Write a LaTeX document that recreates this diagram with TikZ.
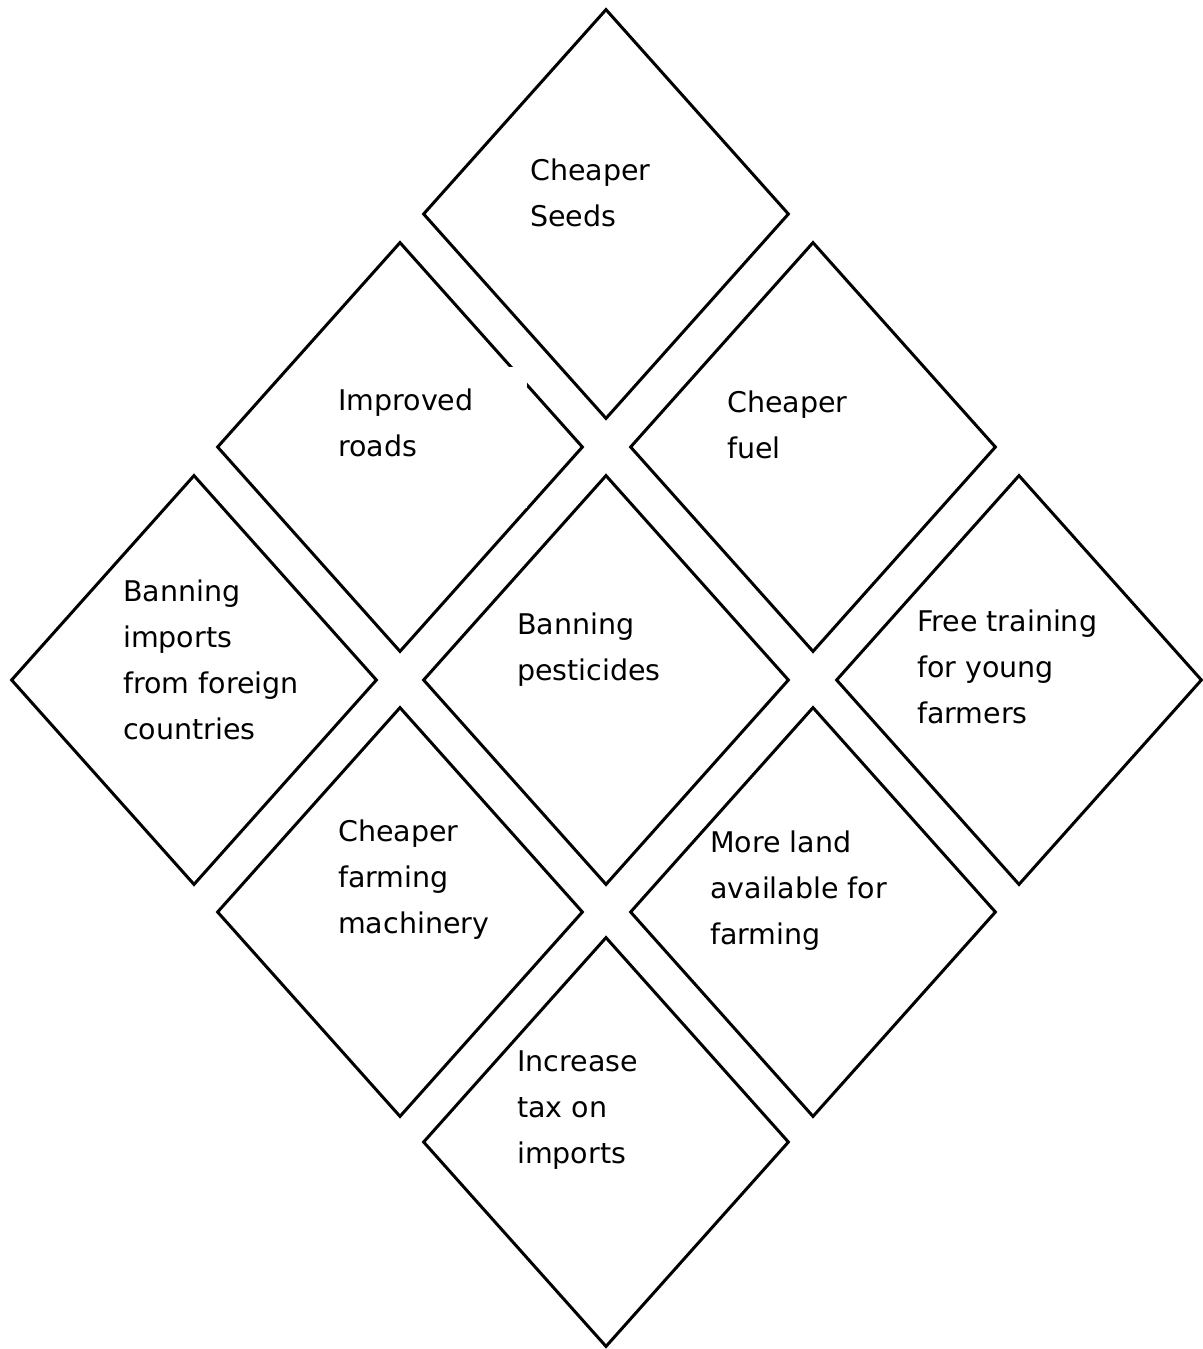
\documentclass[tikz,border=0pt]{standalone}
\usepackage{fontspec}
\setmainfont{DejaVu Sans}
\usetikzlibrary{shapes.geometric}
\begin{document}
\begin{tikzpicture}[x=1pt,y=-1pt,
  dia/.style={diamond, draw=black, line width=3pt, minimum width=366pt, minimum height=410pt, inner sep=0pt},
  lbl/.style={anchor=base west, inner sep=0pt, align=left, font=\fontsize{28.5}{46}\selectfont}]
\useasboundingbox (0,0) rectangle (1202,1349);
% diamonds
\node[dia] (d1) at (606,214) {};
\node[dia] (d2) at (400,447) {};
\node[dia] (d3) at (813,447) {};
\node[dia] (d4) at (194,680) {};
\node[dia] (d5) at (606,680) {};
\node[dia] (d6) at (1019,680) {};
\node[dia] (d7) at (400,912) {};
\node[dia] (d8) at (813,912) {};
\node[dia] (d9) at (606,1142) {};
% white patch over the right edge of "Improved roads"
\fill[white] (330,367) rectangle (527,508);
% labels (anchored at the baseline of the last line)
\node[lbl] (t1) at (530,226) {Cheaper\\Seeds};
\node[lbl] (t2) at (338,456) {Improved\\roads};
\node[lbl] (t3) at (727,458) {Cheaper\\fuel};
\node[lbl] (t4) at (123,739) {Banning\\imports\\from foreign\\countries};
\node[lbl] (t5) at (517,680) {Banning\\pesticides};
\node[lbl] (t6) at (917,723) {Free training\\for young\\farmers};
\node[lbl] (t7) at (338,933) {Cheaper\\farming\\machinery};
\node[lbl] (t8) at (710,944) {More land\\available for\\farming};
\node[lbl] (t9) at (517,1163) {Increase\\tax on\\imports};
\end{tikzpicture}
\end{document}
